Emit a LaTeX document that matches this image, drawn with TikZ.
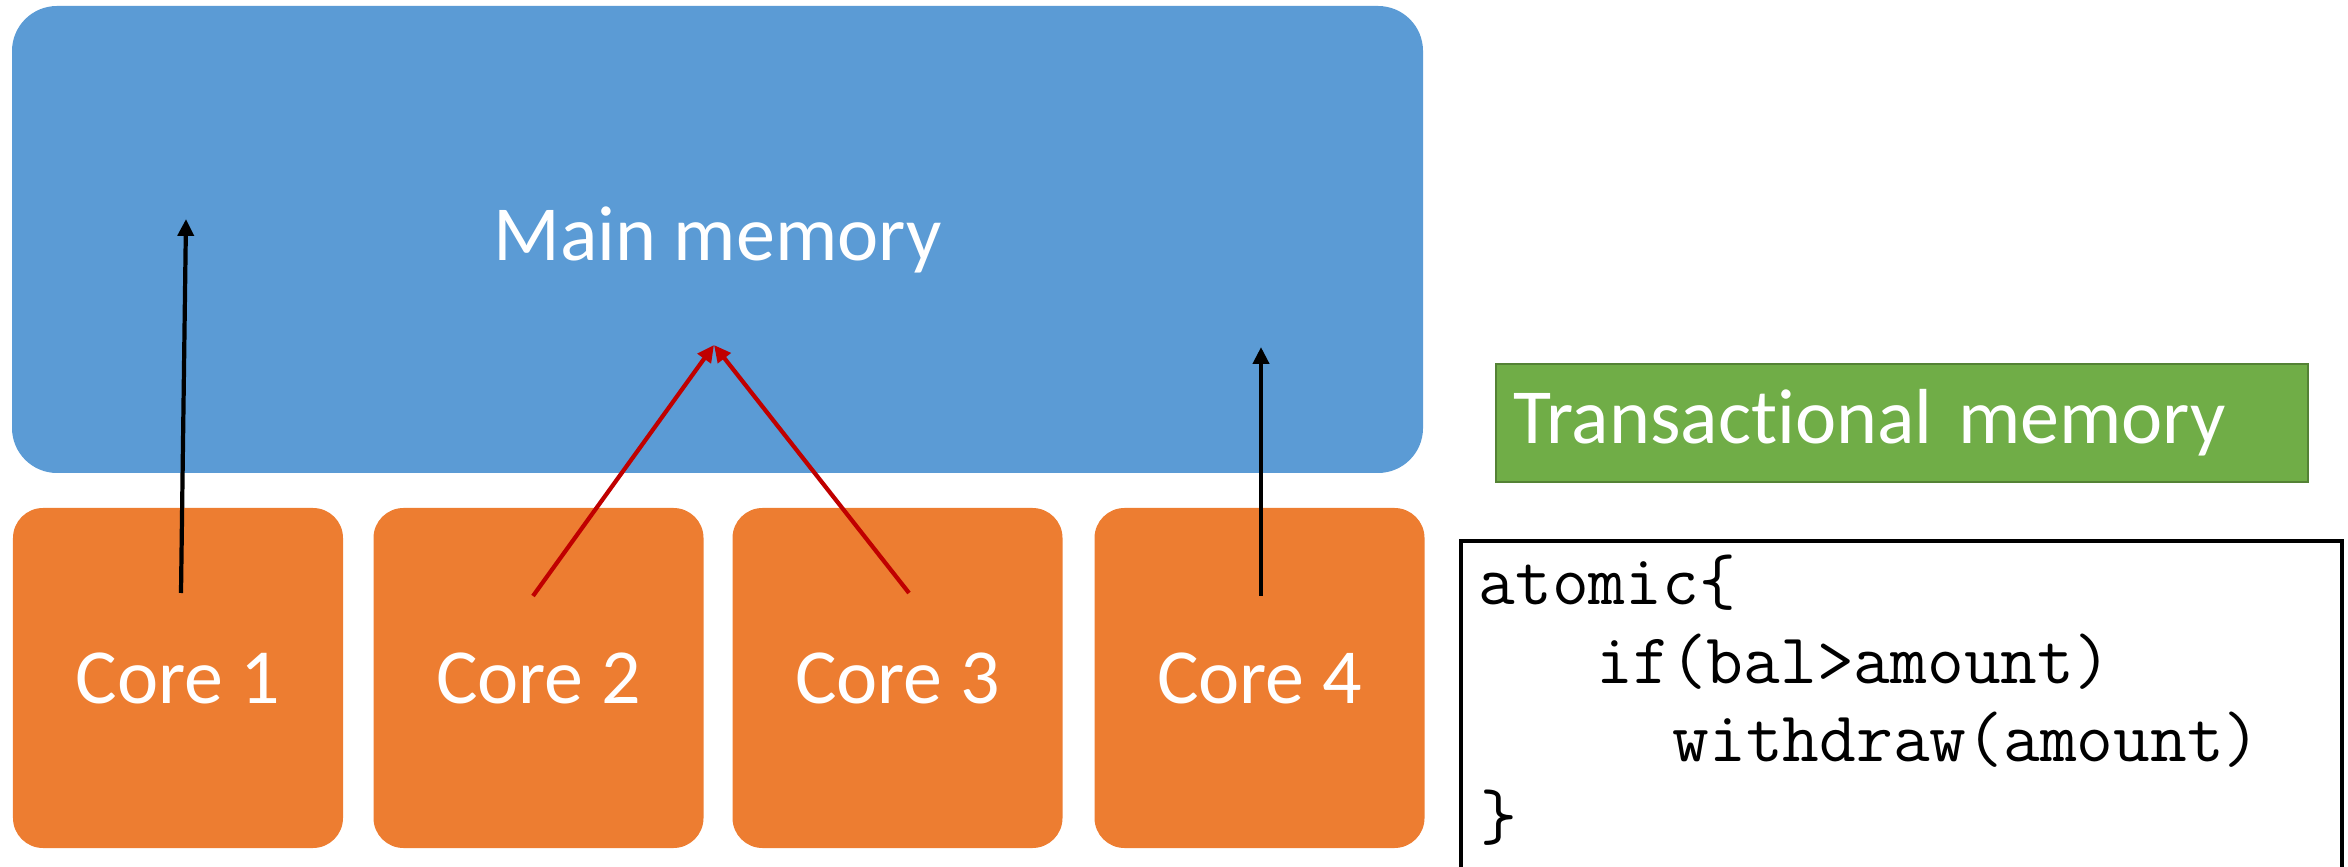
\documentclass[tikz,border=0pt]{standalone}
\usepackage{fontspec}
\setmainfont{Carlito}[Ligatures=NoCommon]
\usetikzlibrary{positioning,calc,arrows.meta}
\definecolor{memblue}{HTML}{5B9BD5}
\definecolor{coreorange}{HTML}{ED7D31}
\definecolor{tmgreen}{HTML}{70AD47}
\definecolor{tmedge}{HTML}{548235}
\definecolor{conflictred}{HTML}{C00000}
\tikzset{
  memory/.style = {rounded corners=0.45cm, fill=memblue, text=white, inner sep=0pt,
                   minimum width=14.11cm, minimum height=4.67cm, font=\fontsize{22.2}{26}\selectfont},
  core/.style = {rounded corners=0.3cm, fill=coreorange, text=white, inner sep=0pt,
                 minimum width=3.3cm, minimum height=3.4cm, font=\fontsize{22.2}{26}\selectfont},
  tmbox/.style = {fill=tmgreen, draw=tmedge, line width=0.6pt, text=white, inner xsep=0.17cm,
                  text width=7.78cm, align=left, minimum height=1.18cm, font=\fontsize{22.2}{26}\selectfont},
  codebox/.style = {draw=black, line width=1pt, inner sep=0pt, minimum width=8.81cm, minimum height=4cm},
  codeline/.style = {anchor=base west, inner sep=0pt, font=\ttfamily\fontsize{20.3}{23}\selectfont},
  write/.style = {-{Triangle[length=4.8pt,width=4.5pt]}, line width=1.2pt},
  conflict/.style = {write, draw=conflictred}
}
\begin{document}
\begin{tikzpicture}
        \useasboundingbox (0,0) rectangle (23.48,-8.67);
        % memory and cores
        \node [memory] (mem) at (7.175,-2.395) {Main memory};
        \node [core] (core1) at (1.78,-6.78) {Core 1};
        \node [core] (core2) at (5.385,-6.78) {Core 2};
        \node [core] (core3) at (8.975,-6.78) {Core 3};
        \node [core] (core4) at (12.595,-6.78) {Core 4};
        % arrow ends
        \coordinate (out1) at ($(core1.center)+(0.03,0.85)$);
        \coordinate (out2) at ($(core2.center)+(-0.055,0.82)$);
        \coordinate (out3) at ($(core3.center)+(0.115,0.85)$);
        \coordinate (out4) at ($(core4.center)+(0.015,0.82)$);
        \coordinate (in1) at (1.86,-2.19);
        \coordinate (inx) at (7.14,-3.45);
        \coordinate (in4) at (12.61,-3.47);
        \draw [write] (out1) -- (in1);
        \draw [conflict] (out2) -- (inx);
        \draw [conflict] (out3) -- (inx);
        \draw [write] (out4) -- (in4);
        % right side
        \node [tmbox] (tm) at (19.02,-4.23) {Transactional memory};
        \node [codebox] (code) at (19.015,-7.41) {};
        \node [codeline] (line1) at (14.78,-6.05) {atomic\{};
        \node [codeline] (line2) at (15.96,-6.83) {if(bal>amount)};
        \node [codeline] (line3) at (16.72,-7.61) {withdraw(amount)};
        \node [codeline] (line4) at (14.80,-8.39) {\}};
      \end{tikzpicture}
\end{document}
